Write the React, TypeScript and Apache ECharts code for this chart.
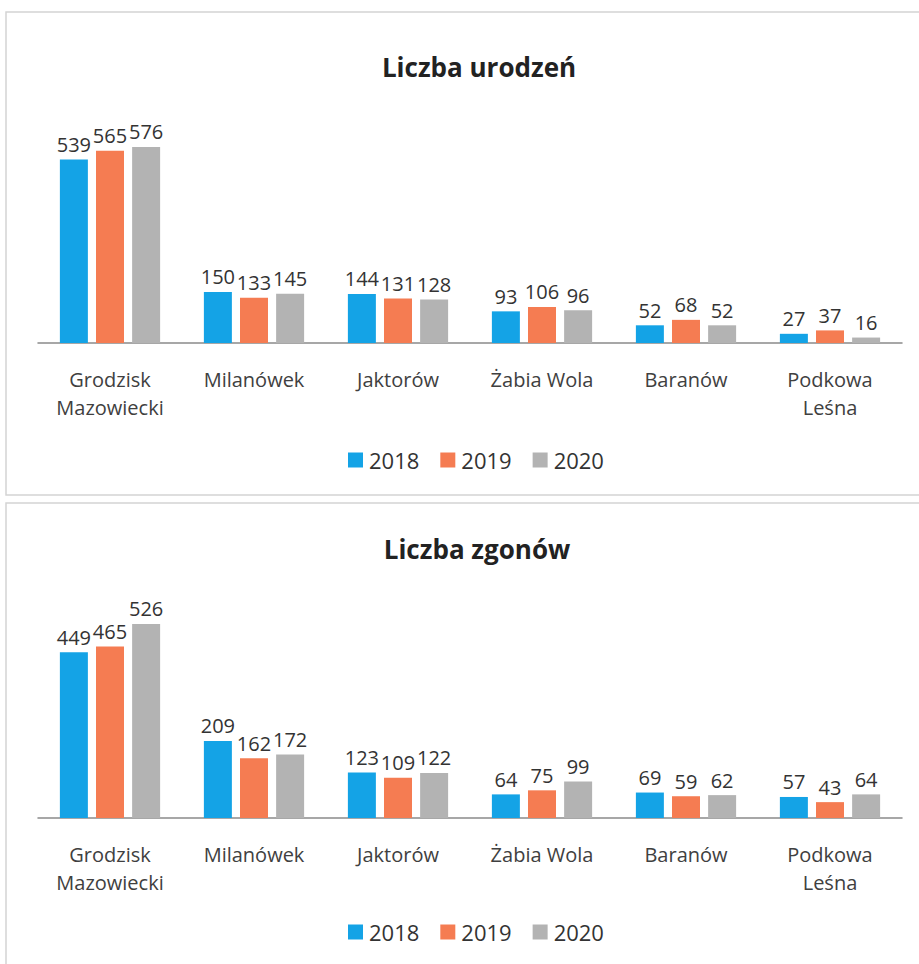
import React, { useEffect, useRef } from "react";
import * as echarts from "echarts";

const categories = ["Grodzisk\nMazowiecki", "Milanówek", "Jaktorów", "Żabia Wola", "Baranów", "Podkowa\nLeśna"];
const years = ["2018", "2019", "2020"];
const births2018 = [539, 150, 144, 93, 52, 27];
const births2019 = [565, 133, 131, 106, 68, 37];
const births2020 = [576, 145, 128, 96, 52, 16];
const deaths2018 = [449, 209, 123, 64, 69, 57];
const deaths2019 = [465, 162, 109, 75, 59, 43];
const deaths2020 = [526, 172, 122, 99, 62, 64];
const titles = ["Liczba urodzeń", "Liczba zgonów"];
const colors = ["#14A3E6", "#F57C52", "#B3B3B3"];

const FONT = "'Open Sans', 'Noto Sans', sans-serif";

export default function App() {
  const ref = useRef<HTMLDivElement>(null);
  useEffect(() => {
    if (!ref.current) return;
    const chart = echarts.init(ref.current, null, { renderer: "svg" });
    const births = [births2018, births2019, births2020];
    const deaths = [deaths2018, deaths2019, deaths2020];
    const makeSeries = (data: number[][], idx: number) =>
      data.map((d, i) => ({
        type: "bar",
        name: years[i],
        xAxisIndex: idx,
        yAxisIndex: idx,
        data: d,
        barWidth: 28,
        barGap: "29%",
        itemStyle: { color: colors[i] },
        label: {
          show: true,
          position: "top",
          distance: 5,
          color: "#333",
          fontSize: 20,
          fontFamily: FONT,
        },
      }));
    const xAxisBase = (gridIndex: number) => ({
      type: "category",
      gridIndex,
      data: categories,
      axisTick: { show: false },
      axisLine: { lineStyle: { color: "#8a8a8a", width: 1.5 } },
      axisLabel: {
        color: "#404040",
        fontSize: 20,
        fontFamily: FONT,
        margin: 22,
        lineHeight: 28,
        interval: 0,
      },
    });
    const yAxisBase = (gridIndex: number, max: number) => ({
      type: "value",
      gridIndex,
      min: 0,
      max,
      show: false,
      splitLine: { show: false },
    });
    const legendBase = (top: number) => ({
      top,
      left: 343,
      icon: "rect",
      itemWidth: 15,
      itemHeight: 15,
      itemGap: 21,
      data: years,
      textStyle: { color: "#333", fontSize: 22, fontFamily: FONT, padding: [0, 0, 0, 1] },
      selectedMode: false,
    });
    chart.setOption({
      animation: false,
      backgroundColor: "#ffffff",
      grid: [
        { left: 38, right: 17, top: 100, height: 243 },
        { left: 38, right: 17, top: 580, height: 238 },
      ],
      xAxis: [xAxisBase(0), xAxisBase(1)],
      yAxis: [yAxisBase(0, 714), yAxisBase(1, 645)],
      legend: [legendBase(444), legendBase(916)],
      series: [...makeSeries(births, 0), ...makeSeries(deaths, 1)],
      graphic: [
        { type: "rect", shape: { x: 6, y: 12, width: 920, height: 483 }, style: { fill: "none", stroke: "#d4d4d4", lineWidth: 1.5 }, silent: true },
        { type: "rect", shape: { x: 6, y: 503, width: 920, height: 470 }, style: { fill: "none", stroke: "#d4d4d4", lineWidth: 1.5 }, silent: true },
        { type: "text", x: 479, y: 67, style: { text: titles[0], align: "center", verticalAlign: "middle", fill: "#222", font: `bold 26px ${FONT}` } },
        { type: "text", x: 477, y: 549, style: { text: titles[1], align: "center", verticalAlign: "middle", fill: "#222", font: `bold 26px ${FONT}` } },
      ],
    });
    return () => chart.dispose();
  }, []);
  return <div ref={ref} style={{ position: "absolute", left: 0, top: 0, width: 919, height: 964 }} />;
}
